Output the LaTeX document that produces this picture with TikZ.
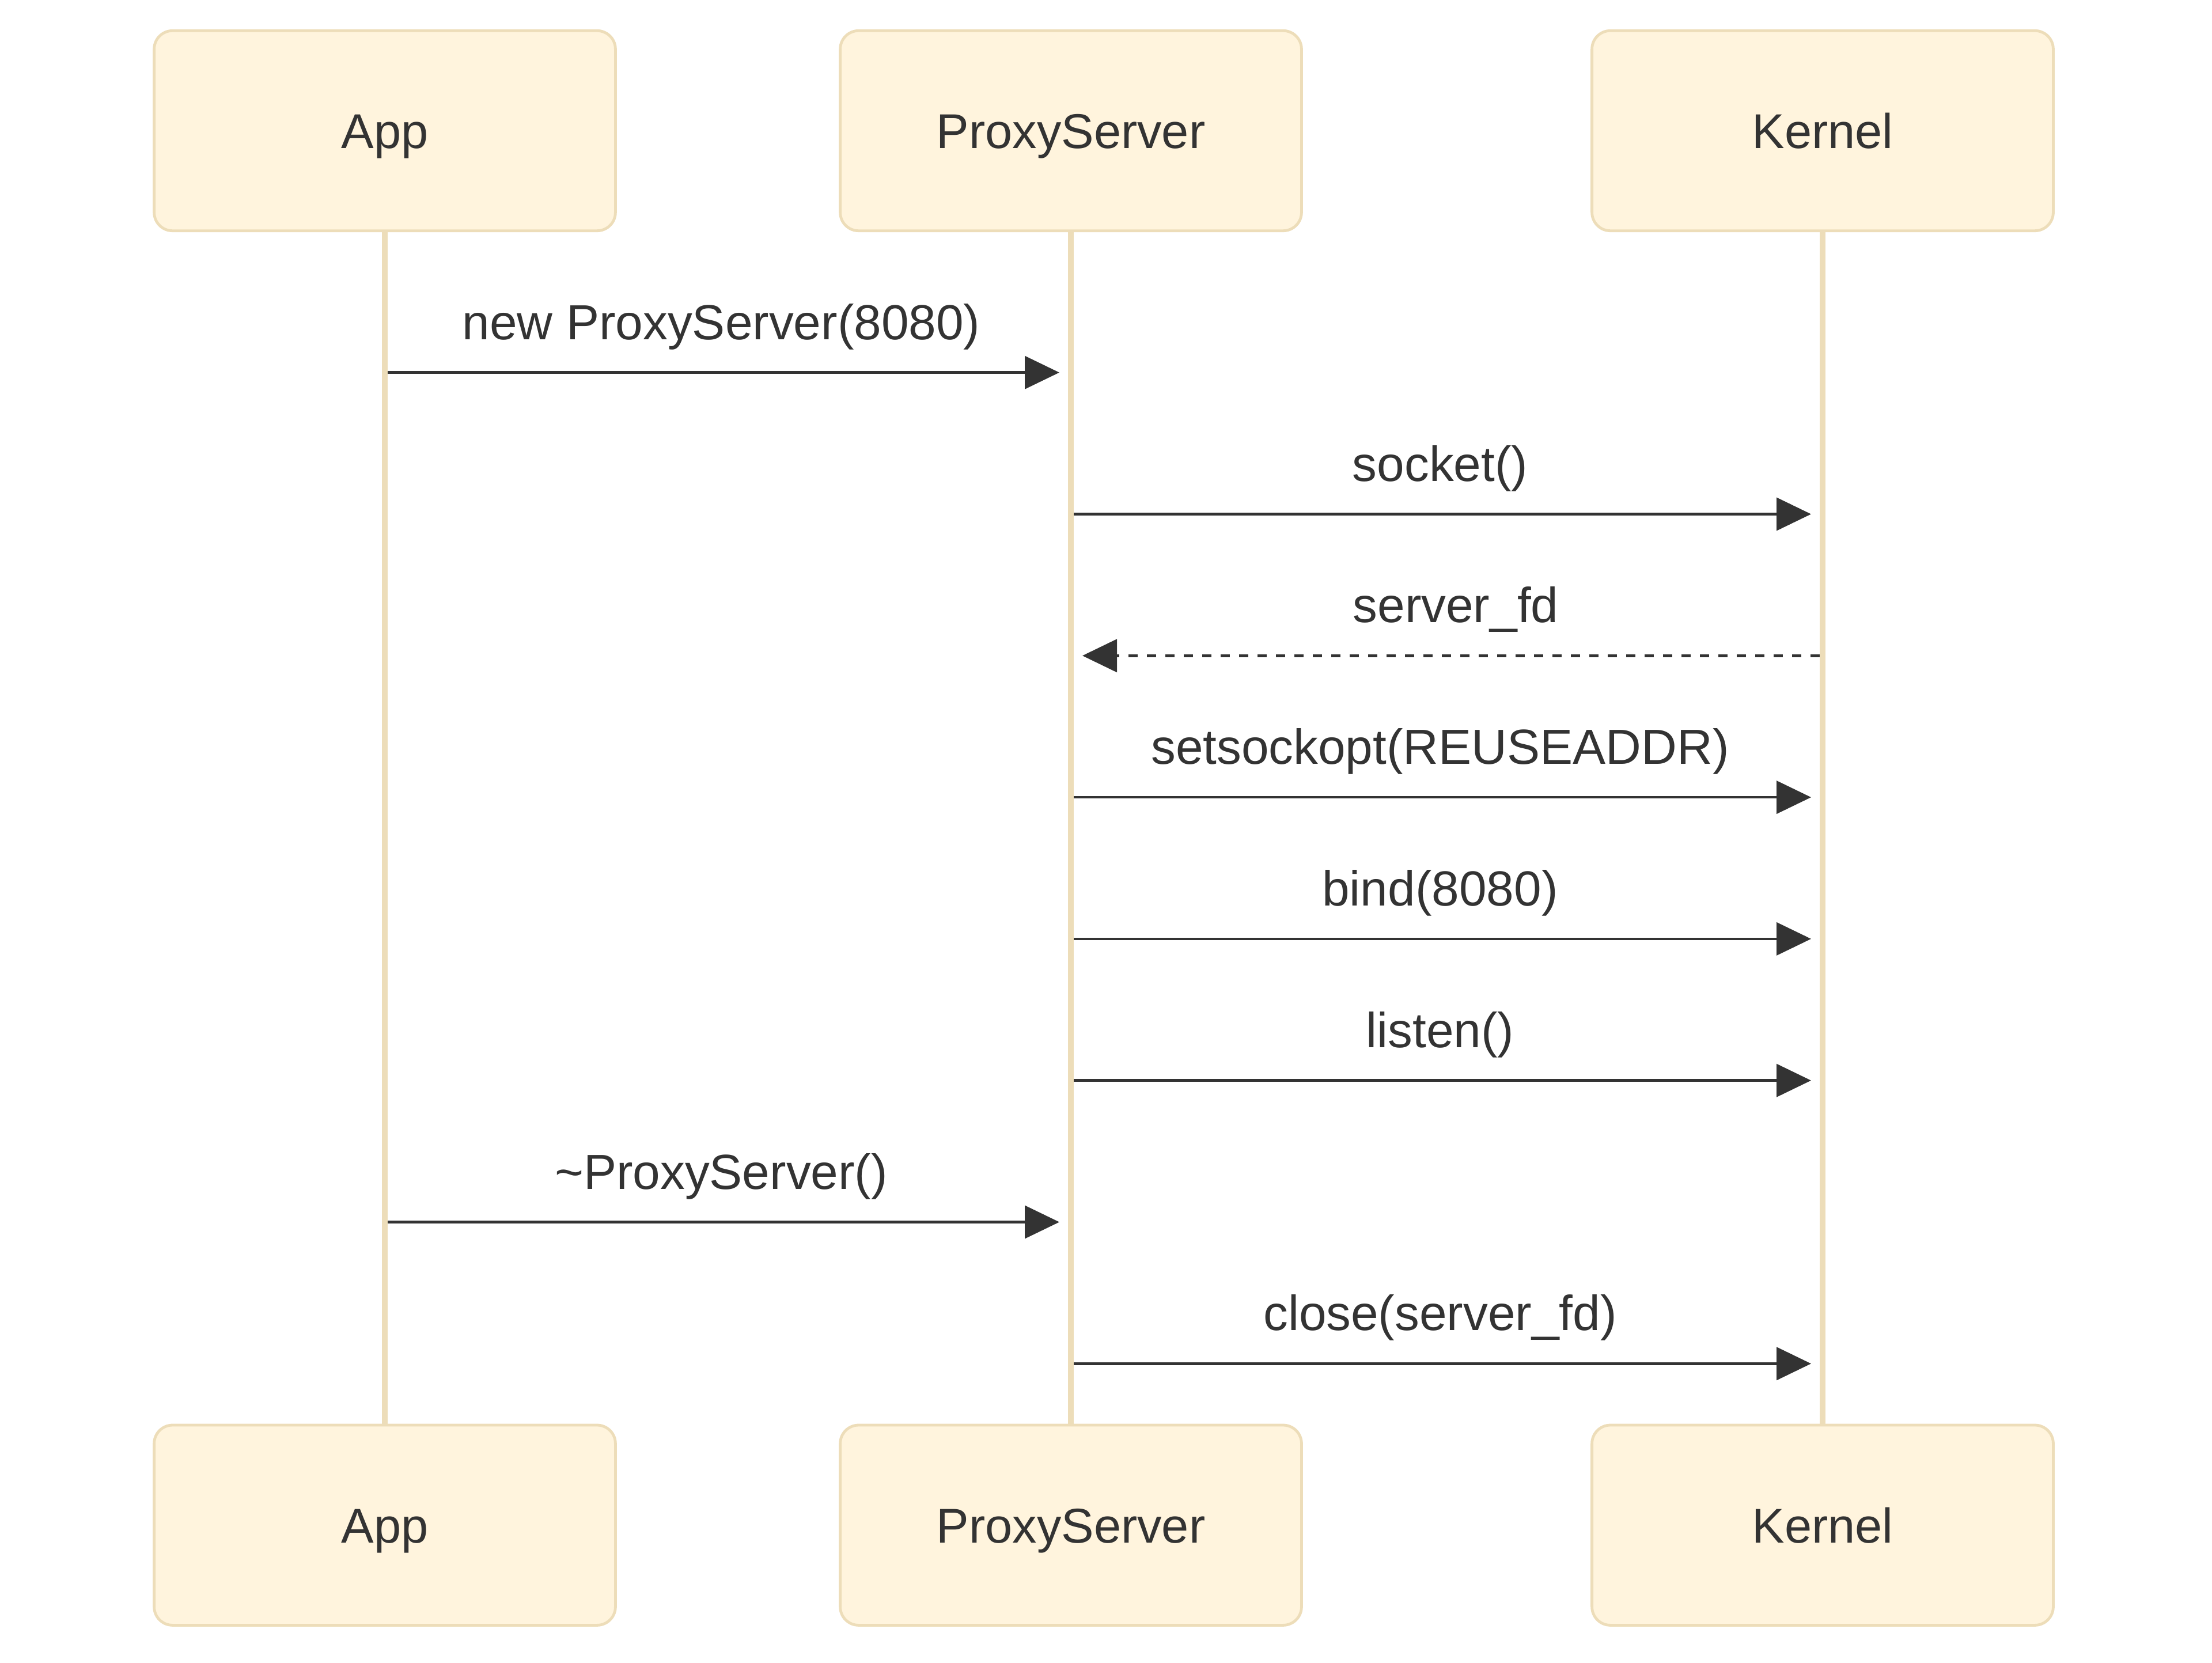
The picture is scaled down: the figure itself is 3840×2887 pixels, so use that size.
\documentclass[tikz,border=0pt]{standalone}
\usepackage{fontspec}
\setmainfont{Liberation Sans}
\usetikzlibrary{arrows.meta,calc}
\definecolor{actorfill}{HTML}{FFF4DD}
\definecolor{actorline}{HTML}{EDDDB9}
\definecolor{ink}{HTML}{333333}
\tikzset{
  actor/.style={draw=actorline, fill=actorfill, line width=1.2pt, rounded corners=8pt,
    minimum width=200.2pt, minimum height=86.85pt, inner sep=0pt,
    text height=15.3pt, text depth=0pt, text=ink, font=\fontsize{21.2}{25}\selectfont},
  life/.style={draw=actorline, line width=2.5pt},
  msg/.style={draw=ink, line width=1.17pt, -{Triangle[length=15pt,width=14.2pt]}},
  reply/.style={msg, dash pattern=on 4pt off 4pt},
  msglabel/.style={anchor=base, yshift=14.35pt, text=ink, font=\fontsize{21.4}{25}\selectfont}
}
\begin{document}
\begin{tikzpicture}[x=0.25pt, y=-0.25pt]
  \useasboundingbox (0,0) rectangle (3840,2887);
  %% actors, top and bottom
  \node[actor] (app) at (668,227) {App};
  \node[actor] (proxy) at (1859,227) {ProxyServer};
  \node[actor] (kernel) at (3164,227) {Kernel};
  \node[actor] (appb) at (668,2647.7) {App};
  \node[actor] (proxyb) at (1859,2647.7) {ProxyServer};
  \node[actor] (kernelb) at (3164,2647.7) {Kernel};
  %% lifelines
  \draw[life] (app) -- (appb);
  \draw[life] (proxy) -- (proxyb);
  \draw[life] (kernel) -- (kernelb);
  %% calls
  \foreach \y/\from/\to/\txt in {
      646.7/app/proxy/new ProxyServer(8080),
      892.5/proxy/kernel/socket(),
      1384.1/proxy/kernel/setsockopt(REUSEADDR),
      1629.9/proxy/kernel/bind(8080),
      1875.7/proxy/kernel/listen(),
      2121.5/app/proxy/\textasciitilde ProxyServer(),
      2367.3/proxy/kernel/close(server\_fd)}
    \draw[msg] ($(\from |- 0,\y)+(5,0)$) -- ($(\to |- 0,\y)+(-20,0)$)
      node[msglabel, midway, xshift=-1pt] {\txt};
  %% reply
  \draw[reply] ($(kernel |- 0,1138.3)+(-5,0)$) -- ($(proxy |- 0,1138.3)+(20,0)$)
    node[msglabel, midway, xshift=2pt] {server\_fd};
\end{tikzpicture}
\end{document}
